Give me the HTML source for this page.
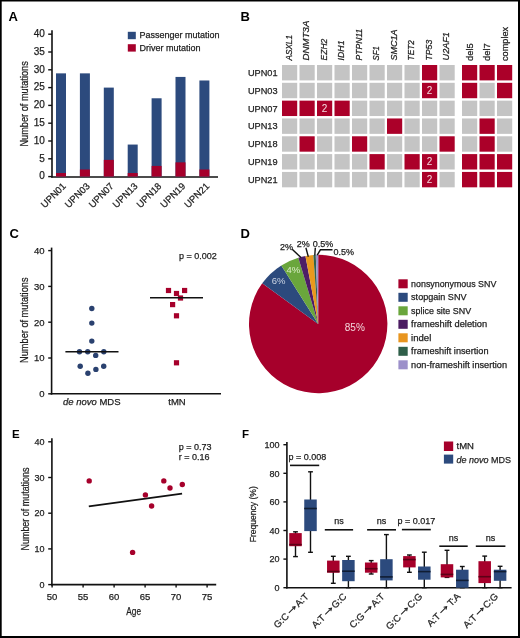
<!DOCTYPE html>
<html><head><meta charset="utf-8"><style>
html,body{margin:0;padding:0;background:#fff;width:520px;height:638px;overflow:hidden}
svg{display:block;will-change:transform}
text{font-family:"Liberation Sans", sans-serif}
</style></head><body>
<svg width="520" height="638" viewBox="0 0 520 638">
<rect width="520" height="638" fill="#fff"/>
<text x="8.40" y="20.70" font-size="13" text-anchor="start" fill="#000" font-weight="bold" font-style="normal" >A</text>
<line x1="52.00" y1="30.20" x2="52.00" y2="177.60" stroke="#111" stroke-width="1.6" stroke-linecap="butt"/>
<line x1="51.20" y1="177.00" x2="218.00" y2="177.00" stroke="#111" stroke-width="1.6" stroke-linecap="butt"/>
<line x1="48.20" y1="176.60" x2="52.00" y2="176.60" stroke="#111" stroke-width="1.4" stroke-linecap="butt"/>
<text x="44.80" y="179.30" font-size="10" text-anchor="end" fill="#1e1e1e" font-weight="normal" font-style="normal" stroke="#1e1e1e" stroke-width="0.25" >0</text>
<line x1="48.20" y1="158.80" x2="52.00" y2="158.80" stroke="#111" stroke-width="1.4" stroke-linecap="butt"/>
<text x="44.80" y="161.50" font-size="10" text-anchor="end" fill="#1e1e1e" font-weight="normal" font-style="normal" stroke="#1e1e1e" stroke-width="0.25" >5</text>
<line x1="48.20" y1="141.00" x2="52.00" y2="141.00" stroke="#111" stroke-width="1.4" stroke-linecap="butt"/>
<text x="44.80" y="143.70" font-size="10" text-anchor="end" fill="#1e1e1e" font-weight="normal" font-style="normal" stroke="#1e1e1e" stroke-width="0.25" >10</text>
<line x1="48.20" y1="123.20" x2="52.00" y2="123.20" stroke="#111" stroke-width="1.4" stroke-linecap="butt"/>
<text x="44.80" y="125.90" font-size="10" text-anchor="end" fill="#1e1e1e" font-weight="normal" font-style="normal" stroke="#1e1e1e" stroke-width="0.25" >15</text>
<line x1="48.20" y1="105.40" x2="52.00" y2="105.40" stroke="#111" stroke-width="1.4" stroke-linecap="butt"/>
<text x="44.80" y="108.10" font-size="10" text-anchor="end" fill="#1e1e1e" font-weight="normal" font-style="normal" stroke="#1e1e1e" stroke-width="0.25" >20</text>
<line x1="48.20" y1="87.60" x2="52.00" y2="87.60" stroke="#111" stroke-width="1.4" stroke-linecap="butt"/>
<text x="44.80" y="90.30" font-size="10" text-anchor="end" fill="#1e1e1e" font-weight="normal" font-style="normal" stroke="#1e1e1e" stroke-width="0.25" >25</text>
<line x1="48.20" y1="69.80" x2="52.00" y2="69.80" stroke="#111" stroke-width="1.4" stroke-linecap="butt"/>
<text x="44.80" y="72.50" font-size="10" text-anchor="end" fill="#1e1e1e" font-weight="normal" font-style="normal" stroke="#1e1e1e" stroke-width="0.25" >30</text>
<line x1="48.20" y1="52.00" x2="52.00" y2="52.00" stroke="#111" stroke-width="1.4" stroke-linecap="butt"/>
<text x="44.80" y="54.70" font-size="10" text-anchor="end" fill="#1e1e1e" font-weight="normal" font-style="normal" stroke="#1e1e1e" stroke-width="0.25" >35</text>
<line x1="48.20" y1="34.20" x2="52.00" y2="34.20" stroke="#111" stroke-width="1.4" stroke-linecap="butt"/>
<text x="44.80" y="36.90" font-size="10" text-anchor="end" fill="#1e1e1e" font-weight="normal" font-style="normal" stroke="#1e1e1e" stroke-width="0.25" >40</text>
<text x="0.00" y="0.00" font-size="11.5" text-anchor="middle" fill="#1e1e1e" font-weight="normal" font-style="normal" stroke="#1e1e1e" stroke-width="0.25" transform="translate(28.4,103.9) rotate(-90)" textLength="85.4" lengthAdjust="spacingAndGlyphs">Number of mutations</text>
<rect x="56.00" y="73.36" width="10.00" height="103.24" fill="#2c4a7d"/>
<rect x="56.00" y="173.04" width="10.00" height="3.56" fill="#a6002b"/>
<text x="0.00" y="0.00" font-size="9.5" text-anchor="end" fill="#1e1e1e" font-weight="normal" font-style="normal" stroke="#1e1e1e" stroke-width="0.25" transform="translate(66.50,186.8) rotate(-45)">UPN01</text>
<rect x="79.90" y="73.36" width="10.00" height="103.24" fill="#2c4a7d"/>
<rect x="79.90" y="169.48" width="10.00" height="7.12" fill="#a6002b"/>
<text x="0.00" y="0.00" font-size="9.5" text-anchor="end" fill="#1e1e1e" font-weight="normal" font-style="normal" stroke="#1e1e1e" stroke-width="0.25" transform="translate(90.40,186.8) rotate(-45)">UPN03</text>
<rect x="103.80" y="87.60" width="10.00" height="89.00" fill="#2c4a7d"/>
<rect x="103.80" y="159.87" width="10.00" height="16.73" fill="#a6002b"/>
<text x="0.00" y="0.00" font-size="9.5" text-anchor="end" fill="#1e1e1e" font-weight="normal" font-style="normal" stroke="#1e1e1e" stroke-width="0.25" transform="translate(114.30,186.8) rotate(-45)">UPN07</text>
<rect x="127.70" y="144.56" width="10.00" height="32.04" fill="#2c4a7d"/>
<rect x="127.70" y="173.04" width="10.00" height="3.56" fill="#a6002b"/>
<text x="0.00" y="0.00" font-size="9.5" text-anchor="end" fill="#1e1e1e" font-weight="normal" font-style="normal" stroke="#1e1e1e" stroke-width="0.25" transform="translate(138.20,186.8) rotate(-45)">UPN13</text>
<rect x="151.60" y="98.28" width="10.00" height="78.32" fill="#2c4a7d"/>
<rect x="151.60" y="165.92" width="10.00" height="10.68" fill="#a6002b"/>
<text x="0.00" y="0.00" font-size="9.5" text-anchor="end" fill="#1e1e1e" font-weight="normal" font-style="normal" stroke="#1e1e1e" stroke-width="0.25" transform="translate(162.10,186.8) rotate(-45)">UPN18</text>
<rect x="175.50" y="76.92" width="10.00" height="99.68" fill="#2c4a7d"/>
<rect x="175.50" y="162.36" width="10.00" height="14.24" fill="#a6002b"/>
<text x="0.00" y="0.00" font-size="9.5" text-anchor="end" fill="#1e1e1e" font-weight="normal" font-style="normal" stroke="#1e1e1e" stroke-width="0.25" transform="translate(186.00,186.8) rotate(-45)">UPN19</text>
<rect x="199.40" y="80.48" width="10.00" height="96.12" fill="#2c4a7d"/>
<rect x="199.40" y="169.48" width="10.00" height="7.12" fill="#a6002b"/>
<text x="0.00" y="0.00" font-size="9.5" text-anchor="end" fill="#1e1e1e" font-weight="normal" font-style="normal" stroke="#1e1e1e" stroke-width="0.25" transform="translate(209.90,186.8) rotate(-45)">UPN21</text>
<rect x="127.80" y="31.80" width="8.00" height="7.40" fill="#2c4a7d"/>
<rect x="127.80" y="44.20" width="8.00" height="7.40" fill="#a6002b"/>
<text x="139.40" y="38.00" font-size="9" text-anchor="start" fill="#1e1e1e" font-weight="normal" font-style="normal" stroke="#1e1e1e" stroke-width="0.25" >Passenger mutation</text>
<text x="139.40" y="50.60" font-size="9" text-anchor="start" fill="#1e1e1e" font-weight="normal" font-style="normal" stroke="#1e1e1e" stroke-width="0.25" >Driver mutation</text>
<text x="240.50" y="20.70" font-size="13" text-anchor="start" fill="#000" font-weight="bold" font-style="normal" >B</text>
<text x="277.60" y="76.00" font-size="9.2" text-anchor="end" fill="#1e1e1e" font-weight="normal" font-style="normal" stroke="#1e1e1e" stroke-width="0.25" >UPN01</text>
<rect x="282.00" y="65.00" width="15.20" height="15.40" fill="#c4c4c4"/>
<rect x="299.50" y="65.00" width="15.20" height="15.40" fill="#c4c4c4"/>
<rect x="317.00" y="65.00" width="15.20" height="15.40" fill="#c4c4c4"/>
<rect x="334.50" y="65.00" width="15.20" height="15.40" fill="#c4c4c4"/>
<rect x="352.00" y="65.00" width="15.20" height="15.40" fill="#c4c4c4"/>
<rect x="369.50" y="65.00" width="15.20" height="15.40" fill="#c4c4c4"/>
<rect x="387.00" y="65.00" width="15.20" height="15.40" fill="#c4c4c4"/>
<rect x="404.50" y="65.00" width="15.20" height="15.40" fill="#c4c4c4"/>
<rect x="422.00" y="65.00" width="15.20" height="15.40" fill="#ab0029"/>
<rect x="439.50" y="65.00" width="15.20" height="15.40" fill="#c4c4c4"/>
<rect x="462.00" y="65.00" width="15.20" height="15.40" fill="#ab0029"/>
<rect x="479.50" y="65.00" width="15.20" height="15.40" fill="#ab0029"/>
<rect x="497.00" y="65.00" width="15.20" height="15.40" fill="#ab0029"/>
<text x="277.60" y="93.82" font-size="9.2" text-anchor="end" fill="#1e1e1e" font-weight="normal" font-style="normal" stroke="#1e1e1e" stroke-width="0.25" >UPN03</text>
<rect x="282.00" y="82.82" width="15.20" height="15.40" fill="#c4c4c4"/>
<rect x="299.50" y="82.82" width="15.20" height="15.40" fill="#c4c4c4"/>
<rect x="317.00" y="82.82" width="15.20" height="15.40" fill="#c4c4c4"/>
<rect x="334.50" y="82.82" width="15.20" height="15.40" fill="#c4c4c4"/>
<rect x="352.00" y="82.82" width="15.20" height="15.40" fill="#c4c4c4"/>
<rect x="369.50" y="82.82" width="15.20" height="15.40" fill="#c4c4c4"/>
<rect x="387.00" y="82.82" width="15.20" height="15.40" fill="#c4c4c4"/>
<rect x="404.50" y="82.82" width="15.20" height="15.40" fill="#c4c4c4"/>
<rect x="422.00" y="82.82" width="15.20" height="15.40" fill="#ab0029"/>
<text x="429.60" y="94.02" font-size="10" text-anchor="middle" fill="#f4dce0" font-weight="normal" font-style="normal" >2</text>
<rect x="439.50" y="82.82" width="15.20" height="15.40" fill="#c4c4c4"/>
<rect x="462.00" y="82.82" width="15.20" height="15.40" fill="#ab0029"/>
<rect x="479.50" y="82.82" width="15.20" height="15.40" fill="#c4c4c4"/>
<rect x="497.00" y="82.82" width="15.20" height="15.40" fill="#ab0029"/>
<text x="277.60" y="111.64" font-size="9.2" text-anchor="end" fill="#1e1e1e" font-weight="normal" font-style="normal" stroke="#1e1e1e" stroke-width="0.25" >UPN07</text>
<rect x="282.00" y="100.64" width="15.20" height="15.40" fill="#ab0029"/>
<rect x="299.50" y="100.64" width="15.20" height="15.40" fill="#ab0029"/>
<rect x="317.00" y="100.64" width="15.20" height="15.40" fill="#ab0029"/>
<text x="324.60" y="111.84" font-size="10" text-anchor="middle" fill="#f4dce0" font-weight="normal" font-style="normal" >2</text>
<rect x="334.50" y="100.64" width="15.20" height="15.40" fill="#ab0029"/>
<rect x="352.00" y="100.64" width="15.20" height="15.40" fill="#c4c4c4"/>
<rect x="369.50" y="100.64" width="15.20" height="15.40" fill="#c4c4c4"/>
<rect x="387.00" y="100.64" width="15.20" height="15.40" fill="#c4c4c4"/>
<rect x="404.50" y="100.64" width="15.20" height="15.40" fill="#c4c4c4"/>
<rect x="422.00" y="100.64" width="15.20" height="15.40" fill="#c4c4c4"/>
<rect x="439.50" y="100.64" width="15.20" height="15.40" fill="#c4c4c4"/>
<rect x="462.00" y="100.64" width="15.20" height="15.40" fill="#c4c4c4"/>
<rect x="479.50" y="100.64" width="15.20" height="15.40" fill="#c4c4c4"/>
<rect x="497.00" y="100.64" width="15.20" height="15.40" fill="#c4c4c4"/>
<text x="277.60" y="129.46" font-size="9.2" text-anchor="end" fill="#1e1e1e" font-weight="normal" font-style="normal" stroke="#1e1e1e" stroke-width="0.25" >UPN13</text>
<rect x="282.00" y="118.46" width="15.20" height="15.40" fill="#c4c4c4"/>
<rect x="299.50" y="118.46" width="15.20" height="15.40" fill="#c4c4c4"/>
<rect x="317.00" y="118.46" width="15.20" height="15.40" fill="#c4c4c4"/>
<rect x="334.50" y="118.46" width="15.20" height="15.40" fill="#c4c4c4"/>
<rect x="352.00" y="118.46" width="15.20" height="15.40" fill="#c4c4c4"/>
<rect x="369.50" y="118.46" width="15.20" height="15.40" fill="#c4c4c4"/>
<rect x="387.00" y="118.46" width="15.20" height="15.40" fill="#ab0029"/>
<rect x="404.50" y="118.46" width="15.20" height="15.40" fill="#c4c4c4"/>
<rect x="422.00" y="118.46" width="15.20" height="15.40" fill="#c4c4c4"/>
<rect x="439.50" y="118.46" width="15.20" height="15.40" fill="#c4c4c4"/>
<rect x="462.00" y="118.46" width="15.20" height="15.40" fill="#c4c4c4"/>
<rect x="479.50" y="118.46" width="15.20" height="15.40" fill="#ab0029"/>
<rect x="497.00" y="118.46" width="15.20" height="15.40" fill="#c4c4c4"/>
<text x="277.60" y="147.28" font-size="9.2" text-anchor="end" fill="#1e1e1e" font-weight="normal" font-style="normal" stroke="#1e1e1e" stroke-width="0.25" >UPN18</text>
<rect x="282.00" y="136.28" width="15.20" height="15.40" fill="#c4c4c4"/>
<rect x="299.50" y="136.28" width="15.20" height="15.40" fill="#ab0029"/>
<rect x="317.00" y="136.28" width="15.20" height="15.40" fill="#c4c4c4"/>
<rect x="334.50" y="136.28" width="15.20" height="15.40" fill="#c4c4c4"/>
<rect x="352.00" y="136.28" width="15.20" height="15.40" fill="#ab0029"/>
<rect x="369.50" y="136.28" width="15.20" height="15.40" fill="#c4c4c4"/>
<rect x="387.00" y="136.28" width="15.20" height="15.40" fill="#c4c4c4"/>
<rect x="404.50" y="136.28" width="15.20" height="15.40" fill="#c4c4c4"/>
<rect x="422.00" y="136.28" width="15.20" height="15.40" fill="#c4c4c4"/>
<rect x="439.50" y="136.28" width="15.20" height="15.40" fill="#ab0029"/>
<rect x="462.00" y="136.28" width="15.20" height="15.40" fill="#c4c4c4"/>
<rect x="479.50" y="136.28" width="15.20" height="15.40" fill="#ab0029"/>
<rect x="497.00" y="136.28" width="15.20" height="15.40" fill="#c4c4c4"/>
<text x="277.60" y="165.10" font-size="9.2" text-anchor="end" fill="#1e1e1e" font-weight="normal" font-style="normal" stroke="#1e1e1e" stroke-width="0.25" >UPN19</text>
<rect x="282.00" y="154.10" width="15.20" height="15.40" fill="#c4c4c4"/>
<rect x="299.50" y="154.10" width="15.20" height="15.40" fill="#c4c4c4"/>
<rect x="317.00" y="154.10" width="15.20" height="15.40" fill="#c4c4c4"/>
<rect x="334.50" y="154.10" width="15.20" height="15.40" fill="#c4c4c4"/>
<rect x="352.00" y="154.10" width="15.20" height="15.40" fill="#c4c4c4"/>
<rect x="369.50" y="154.10" width="15.20" height="15.40" fill="#ab0029"/>
<rect x="387.00" y="154.10" width="15.20" height="15.40" fill="#c4c4c4"/>
<rect x="404.50" y="154.10" width="15.20" height="15.40" fill="#ab0029"/>
<rect x="422.00" y="154.10" width="15.20" height="15.40" fill="#ab0029"/>
<text x="429.60" y="165.30" font-size="10" text-anchor="middle" fill="#f4dce0" font-weight="normal" font-style="normal" >2</text>
<rect x="439.50" y="154.10" width="15.20" height="15.40" fill="#c4c4c4"/>
<rect x="462.00" y="154.10" width="15.20" height="15.40" fill="#ab0029"/>
<rect x="479.50" y="154.10" width="15.20" height="15.40" fill="#ab0029"/>
<rect x="497.00" y="154.10" width="15.20" height="15.40" fill="#ab0029"/>
<text x="277.60" y="182.92" font-size="9.2" text-anchor="end" fill="#1e1e1e" font-weight="normal" font-style="normal" stroke="#1e1e1e" stroke-width="0.25" >UPN21</text>
<rect x="282.00" y="171.92" width="15.20" height="15.40" fill="#c4c4c4"/>
<rect x="299.50" y="171.92" width="15.20" height="15.40" fill="#c4c4c4"/>
<rect x="317.00" y="171.92" width="15.20" height="15.40" fill="#c4c4c4"/>
<rect x="334.50" y="171.92" width="15.20" height="15.40" fill="#c4c4c4"/>
<rect x="352.00" y="171.92" width="15.20" height="15.40" fill="#c4c4c4"/>
<rect x="369.50" y="171.92" width="15.20" height="15.40" fill="#c4c4c4"/>
<rect x="387.00" y="171.92" width="15.20" height="15.40" fill="#c4c4c4"/>
<rect x="404.50" y="171.92" width="15.20" height="15.40" fill="#c4c4c4"/>
<rect x="422.00" y="171.92" width="15.20" height="15.40" fill="#ab0029"/>
<text x="429.60" y="183.12" font-size="10" text-anchor="middle" fill="#f4dce0" font-weight="normal" font-style="normal" >2</text>
<rect x="439.50" y="171.92" width="15.20" height="15.40" fill="#c4c4c4"/>
<rect x="462.00" y="171.92" width="15.20" height="15.40" fill="#ab0029"/>
<rect x="479.50" y="171.92" width="15.20" height="15.40" fill="#ab0029"/>
<rect x="497.00" y="171.92" width="15.20" height="15.40" fill="#ab0029"/>
<text x="0.00" y="0.00" font-size="9.5" text-anchor="start" fill="#1e1e1e" font-weight="normal" font-style="italic" stroke="#1e1e1e" stroke-width="0.25" transform="translate(291.60,60.4) rotate(-90)" textLength="25.3" lengthAdjust="spacingAndGlyphs">ASXL1</text>
<text x="0.00" y="0.00" font-size="9.5" text-anchor="start" fill="#1e1e1e" font-weight="normal" font-style="italic" stroke="#1e1e1e" stroke-width="0.25" transform="translate(309.10,60.4) rotate(-90)" textLength="39.8" lengthAdjust="spacingAndGlyphs">DNMT3A</text>
<text x="0.00" y="0.00" font-size="9.5" text-anchor="start" fill="#1e1e1e" font-weight="normal" font-style="italic" stroke="#1e1e1e" stroke-width="0.25" transform="translate(326.60,60.4) rotate(-90)" textLength="21.6" lengthAdjust="spacingAndGlyphs">EZH2</text>
<text x="0.00" y="0.00" font-size="9.5" text-anchor="start" fill="#1e1e1e" font-weight="normal" font-style="italic" stroke="#1e1e1e" stroke-width="0.25" transform="translate(344.10,60.4) rotate(-90)" textLength="20.0" lengthAdjust="spacingAndGlyphs">IDH1</text>
<text x="0.00" y="0.00" font-size="9.5" text-anchor="start" fill="#1e1e1e" font-weight="normal" font-style="italic" stroke="#1e1e1e" stroke-width="0.25" transform="translate(361.60,60.4) rotate(-90)" textLength="31.7" lengthAdjust="spacingAndGlyphs">PTPN11</text>
<text x="0.00" y="0.00" font-size="9.5" text-anchor="start" fill="#1e1e1e" font-weight="normal" font-style="italic" stroke="#1e1e1e" stroke-width="0.25" transform="translate(379.10,60.4) rotate(-90)" textLength="14.2" lengthAdjust="spacingAndGlyphs">SF1</text>
<text x="0.00" y="0.00" font-size="9.5" text-anchor="start" fill="#1e1e1e" font-weight="normal" font-style="italic" stroke="#1e1e1e" stroke-width="0.25" transform="translate(396.60,60.4) rotate(-90)" textLength="31.0" lengthAdjust="spacingAndGlyphs">SMC1A</text>
<text x="0.00" y="0.00" font-size="9.5" text-anchor="start" fill="#1e1e1e" font-weight="normal" font-style="italic" stroke="#1e1e1e" stroke-width="0.25" transform="translate(414.10,60.4) rotate(-90)" textLength="20.3" lengthAdjust="spacingAndGlyphs">TET2</text>
<text x="0.00" y="0.00" font-size="9.5" text-anchor="start" fill="#1e1e1e" font-weight="normal" font-style="italic" stroke="#1e1e1e" stroke-width="0.25" transform="translate(431.60,60.4) rotate(-90)" textLength="20.6" lengthAdjust="spacingAndGlyphs">TP53</text>
<text x="0.00" y="0.00" font-size="9.5" text-anchor="start" fill="#1e1e1e" font-weight="normal" font-style="italic" stroke="#1e1e1e" stroke-width="0.25" transform="translate(449.10,60.4) rotate(-90)" textLength="28.3" lengthAdjust="spacingAndGlyphs">U2AF1</text>
<text x="0.00" y="0.00" font-size="9.5" text-anchor="start" fill="#1e1e1e" font-weight="normal" font-style="normal" stroke="#1e1e1e" stroke-width="0.25" transform="translate(472.60,61.0) rotate(-90)" textLength="17.7" lengthAdjust="spacingAndGlyphs">del5</text>
<text x="0.00" y="0.00" font-size="9.5" text-anchor="start" fill="#1e1e1e" font-weight="normal" font-style="normal" stroke="#1e1e1e" stroke-width="0.25" transform="translate(490.10,61.0) rotate(-90)" textLength="17.7" lengthAdjust="spacingAndGlyphs">del7</text>
<text x="0.00" y="0.00" font-size="9.5" text-anchor="start" fill="#1e1e1e" font-weight="normal" font-style="normal" stroke="#1e1e1e" stroke-width="0.25" transform="translate(507.60,61.0) rotate(-90)" textLength="34.1" lengthAdjust="spacingAndGlyphs">complex</text>
<text x="9.60" y="238.40" font-size="13" text-anchor="start" fill="#000" font-weight="bold" font-style="normal" >C</text>
<line x1="51.60" y1="247.60" x2="51.60" y2="394.60" stroke="#111" stroke-width="1.6" stroke-linecap="butt"/>
<line x1="50.80" y1="393.80" x2="221.00" y2="393.80" stroke="#111" stroke-width="1.6" stroke-linecap="butt"/>
<line x1="48.20" y1="393.80" x2="51.60" y2="393.80" stroke="#111" stroke-width="1.4" stroke-linecap="butt"/>
<text x="44.50" y="397.10" font-size="9.5" text-anchor="end" fill="#1e1e1e" font-weight="normal" font-style="normal" stroke="#1e1e1e" stroke-width="0.25" >0</text>
<line x1="48.20" y1="358.00" x2="51.60" y2="358.00" stroke="#111" stroke-width="1.4" stroke-linecap="butt"/>
<text x="44.50" y="361.30" font-size="9.5" text-anchor="end" fill="#1e1e1e" font-weight="normal" font-style="normal" stroke="#1e1e1e" stroke-width="0.25" >10</text>
<line x1="48.20" y1="322.20" x2="51.60" y2="322.20" stroke="#111" stroke-width="1.4" stroke-linecap="butt"/>
<text x="44.50" y="325.50" font-size="9.5" text-anchor="end" fill="#1e1e1e" font-weight="normal" font-style="normal" stroke="#1e1e1e" stroke-width="0.25" >20</text>
<line x1="48.20" y1="286.40" x2="51.60" y2="286.40" stroke="#111" stroke-width="1.4" stroke-linecap="butt"/>
<text x="44.50" y="289.70" font-size="9.5" text-anchor="end" fill="#1e1e1e" font-weight="normal" font-style="normal" stroke="#1e1e1e" stroke-width="0.25" >30</text>
<line x1="48.20" y1="250.60" x2="51.60" y2="250.60" stroke="#111" stroke-width="1.4" stroke-linecap="butt"/>
<text x="44.50" y="253.90" font-size="9.5" text-anchor="end" fill="#1e1e1e" font-weight="normal" font-style="normal" stroke="#1e1e1e" stroke-width="0.25" >40</text>
<text x="0.00" y="0.00" font-size="11.5" text-anchor="middle" fill="#1e1e1e" font-weight="normal" font-style="normal" stroke="#1e1e1e" stroke-width="0.25" transform="translate(28.4,320.2) rotate(-90)" textLength="85.4" lengthAdjust="spacingAndGlyphs">Number of mutations</text>
<circle cx="91.8" cy="308.5" r="2.7" fill="#2a416f"/>
<circle cx="91.8" cy="323.1" r="2.7" fill="#2a416f"/>
<circle cx="91.8" cy="341.1" r="2.7" fill="#2a416f"/>
<circle cx="79.5" cy="351.8" r="2.7" fill="#2a416f"/>
<circle cx="87.7" cy="351.8" r="2.7" fill="#2a416f"/>
<circle cx="103.8" cy="351.8" r="2.7" fill="#2a416f"/>
<circle cx="95.7" cy="355.4" r="2.7" fill="#2a416f"/>
<circle cx="80.2" cy="366.2" r="2.7" fill="#2a416f"/>
<circle cx="103.7" cy="366.2" r="2.7" fill="#2a416f"/>
<circle cx="95.9" cy="369.4" r="2.7" fill="#2a416f"/>
<circle cx="87.9" cy="373.3" r="2.7" fill="#2a416f"/>
<line x1="65.40" y1="351.80" x2="118.50" y2="351.80" stroke="#111" stroke-width="1.6" stroke-linecap="butt"/>
<rect x="165.90" y="287.90" width="5.20" height="5.20" fill="#a6002b"/>
<rect x="182.00" y="287.90" width="5.20" height="5.20" fill="#a6002b"/>
<rect x="173.90" y="290.90" width="5.20" height="5.20" fill="#a6002b"/>
<rect x="177.90" y="295.40" width="5.20" height="5.20" fill="#a6002b"/>
<rect x="170.00" y="302.00" width="5.20" height="5.20" fill="#a6002b"/>
<rect x="173.90" y="313.20" width="5.20" height="5.20" fill="#a6002b"/>
<rect x="173.90" y="360.20" width="5.20" height="5.20" fill="#a6002b"/>
<line x1="150.00" y1="297.80" x2="203.00" y2="297.80" stroke="#111" stroke-width="1.6" stroke-linecap="butt"/>
<text x="91.75" y="405.40" font-size="9.5" text-anchor="middle" fill="#1e1e1e" font-weight="normal" font-style="normal" stroke="#1e1e1e" stroke-width="0.25" ><tspan font-style="italic">de novo</tspan> MDS</text>
<text x="177.00" y="405.40" font-size="9.5" text-anchor="middle" fill="#1e1e1e" font-weight="normal" font-style="normal" stroke="#1e1e1e" stroke-width="0.25" >tMN</text>
<text x="179.00" y="258.70" font-size="9" text-anchor="start" fill="#1e1e1e" font-weight="normal" font-style="normal" stroke="#1e1e1e" stroke-width="0.25" >p = 0.002</text>
<text x="240.50" y="238.40" font-size="13" text-anchor="start" fill="#000" font-weight="bold" font-style="normal" >D</text>
<path d="M318.2,324.0 L318.200,254.800 A69.2,69.2 0 1 1 262.216,283.325 Z" fill="#a6002b"/>
<path d="M318.2,324.0 L262.216,283.325 A69.2,69.2 0 0 1 281.325,265.443 Z" fill="#2c4a7d"/>
<path d="M318.2,324.0 L281.325,265.443 A69.2,69.2 0 0 1 298.315,257.719 Z" fill="#6aa63c"/>
<path d="M318.2,324.0 L298.315,257.719 A69.2,69.2 0 0 1 305.471,255.981 Z" fill="#4d1d66"/>
<path d="M318.2,324.0 L305.471,255.981 A69.2,69.2 0 0 1 313.373,254.969 Z" fill="#e9991e"/>
<path d="M318.2,324.0 L313.373,254.969 A69.2,69.2 0 0 1 315.785,254.842 Z" fill="#33634c"/>
<path d="M318.2,324.0 L315.785,254.842 A69.2,69.2 0 0 1 318.200,254.800 Z" fill="#9c93cc"/>
<text x="354.80" y="330.80" font-size="10" text-anchor="middle" fill="#f3d6dc" font-weight="normal" font-style="normal" >85%</text>
<text x="278.50" y="284.20" font-size="9.5" text-anchor="middle" fill="#cdd5e4" font-weight="normal" font-style="normal" >6%</text>
<text x="293.40" y="272.70" font-size="9.5" text-anchor="middle" fill="#dcedc8" font-weight="normal" font-style="normal" >4%</text>
<text x="286.50" y="249.70" font-size="9" text-anchor="middle" fill="#1e1e1e" font-weight="normal" font-style="normal" stroke="#1e1e1e" stroke-width="0.25" >2%</text>
<text x="303.30" y="246.90" font-size="9" text-anchor="middle" fill="#1e1e1e" font-weight="normal" font-style="normal" stroke="#1e1e1e" stroke-width="0.25" >2%</text>
<text x="323.10" y="246.90" font-size="9" text-anchor="middle" fill="#1e1e1e" font-weight="normal" font-style="normal" stroke="#1e1e1e" stroke-width="0.25" >0.5%</text>
<text x="343.70" y="254.60" font-size="9" text-anchor="middle" fill="#1e1e1e" font-weight="normal" font-style="normal" stroke="#1e1e1e" stroke-width="0.25" >0.5%</text>
<polyline points="292.2,249.3 301,257.6" stroke="#111" stroke-width="1.4" fill="none"/>
<polyline points="305.9,247.7 308.3,256.8" stroke="#111" stroke-width="1.4" fill="none"/>
<polyline points="315.3,247.7 314.8,255.2" stroke="#111" stroke-width="1.4" fill="none"/>
<polyline points="317.2,255.2 320.4,249.8 332.5,249.8" stroke="#111" stroke-width="1.4" fill="none"/>
<rect x="398.40" y="279.30" width="9.30" height="9.00" fill="#a6002b"/>
<text x="411.10" y="286.70" font-size="9" text-anchor="start" fill="#1e1e1e" font-weight="normal" font-style="normal" stroke="#1e1e1e" stroke-width="0.25" textLength="85.2" lengthAdjust="spacingAndGlyphs">nonsynonymous SNV</text>
<rect x="398.40" y="292.80" width="9.30" height="9.00" fill="#2c4a7d"/>
<text x="411.10" y="300.20" font-size="9" text-anchor="start" fill="#1e1e1e" font-weight="normal" font-style="normal" stroke="#1e1e1e" stroke-width="0.25" textLength="55.4" lengthAdjust="spacingAndGlyphs">stopgain SNV</text>
<rect x="398.40" y="306.30" width="9.30" height="9.00" fill="#6aa63c"/>
<text x="411.10" y="313.70" font-size="9" text-anchor="start" fill="#1e1e1e" font-weight="normal" font-style="normal" stroke="#1e1e1e" stroke-width="0.25" textLength="60.0" lengthAdjust="spacingAndGlyphs">splice site SNV</text>
<rect x="398.40" y="319.80" width="9.30" height="9.00" fill="#4b1c62"/>
<text x="411.10" y="327.20" font-size="9" text-anchor="start" fill="#1e1e1e" font-weight="normal" font-style="normal" stroke="#1e1e1e" stroke-width="0.25" textLength="76.0" lengthAdjust="spacingAndGlyphs">frameshift deletion</text>
<rect x="398.40" y="333.30" width="9.30" height="9.00" fill="#e8951f"/>
<text x="411.10" y="340.70" font-size="9" text-anchor="start" fill="#1e1e1e" font-weight="normal" font-style="normal" stroke="#1e1e1e" stroke-width="0.25" textLength="20.2" lengthAdjust="spacingAndGlyphs">indel</text>
<rect x="398.40" y="346.80" width="9.30" height="9.00" fill="#2f5f49"/>
<text x="411.10" y="354.20" font-size="9" text-anchor="start" fill="#1e1e1e" font-weight="normal" font-style="normal" stroke="#1e1e1e" stroke-width="0.25" textLength="77.4" lengthAdjust="spacingAndGlyphs">frameshift insertion</text>
<rect x="398.40" y="360.30" width="9.30" height="9.00" fill="#9c90ca"/>
<text x="411.10" y="367.70" font-size="9" text-anchor="start" fill="#1e1e1e" font-weight="normal" font-style="normal" stroke="#1e1e1e" stroke-width="0.25" textLength="96.0" lengthAdjust="spacingAndGlyphs">non-frameshift insertion</text>
<text x="12.00" y="437.70" font-size="11.5" text-anchor="start" fill="#000" font-weight="bold" font-style="normal" >E</text>
<line x1="51.90" y1="438.20" x2="51.90" y2="585.40" stroke="#111" stroke-width="1.6" stroke-linecap="butt"/>
<line x1="51.10" y1="584.60" x2="216.20" y2="584.60" stroke="#111" stroke-width="1.6" stroke-linecap="butt"/>
<line x1="48.20" y1="584.60" x2="51.90" y2="584.60" stroke="#111" stroke-width="1.4" stroke-linecap="butt"/>
<text x="44.60" y="587.80" font-size="9" text-anchor="end" fill="#1e1e1e" font-weight="normal" font-style="normal" stroke="#1e1e1e" stroke-width="0.25" >0</text>
<line x1="48.20" y1="548.90" x2="51.90" y2="548.90" stroke="#111" stroke-width="1.4" stroke-linecap="butt"/>
<text x="44.60" y="552.10" font-size="9" text-anchor="end" fill="#1e1e1e" font-weight="normal" font-style="normal" stroke="#1e1e1e" stroke-width="0.25" >10</text>
<line x1="48.20" y1="513.20" x2="51.90" y2="513.20" stroke="#111" stroke-width="1.4" stroke-linecap="butt"/>
<text x="44.60" y="516.40" font-size="9" text-anchor="end" fill="#1e1e1e" font-weight="normal" font-style="normal" stroke="#1e1e1e" stroke-width="0.25" >20</text>
<line x1="48.20" y1="477.50" x2="51.90" y2="477.50" stroke="#111" stroke-width="1.4" stroke-linecap="butt"/>
<text x="44.60" y="480.70" font-size="9" text-anchor="end" fill="#1e1e1e" font-weight="normal" font-style="normal" stroke="#1e1e1e" stroke-width="0.25" >30</text>
<line x1="48.20" y1="441.80" x2="51.90" y2="441.80" stroke="#111" stroke-width="1.4" stroke-linecap="butt"/>
<text x="44.60" y="445.00" font-size="9" text-anchor="end" fill="#1e1e1e" font-weight="normal" font-style="normal" stroke="#1e1e1e" stroke-width="0.25" >40</text>
<line x1="52.10" y1="584.60" x2="52.10" y2="587.60" stroke="#111" stroke-width="1.4" stroke-linecap="butt"/>
<text x="52.10" y="599.80" font-size="9.5" text-anchor="middle" fill="#1e1e1e" font-weight="normal" font-style="normal" stroke="#1e1e1e" stroke-width="0.25" >50</text>
<line x1="83.10" y1="584.60" x2="83.10" y2="587.60" stroke="#111" stroke-width="1.4" stroke-linecap="butt"/>
<text x="83.10" y="599.80" font-size="9.5" text-anchor="middle" fill="#1e1e1e" font-weight="normal" font-style="normal" stroke="#1e1e1e" stroke-width="0.25" >55</text>
<line x1="114.10" y1="584.60" x2="114.10" y2="587.60" stroke="#111" stroke-width="1.4" stroke-linecap="butt"/>
<text x="114.10" y="599.80" font-size="9.5" text-anchor="middle" fill="#1e1e1e" font-weight="normal" font-style="normal" stroke="#1e1e1e" stroke-width="0.25" >60</text>
<line x1="145.10" y1="584.60" x2="145.10" y2="587.60" stroke="#111" stroke-width="1.4" stroke-linecap="butt"/>
<text x="145.10" y="599.80" font-size="9.5" text-anchor="middle" fill="#1e1e1e" font-weight="normal" font-style="normal" stroke="#1e1e1e" stroke-width="0.25" >65</text>
<line x1="176.10" y1="584.60" x2="176.10" y2="587.60" stroke="#111" stroke-width="1.4" stroke-linecap="butt"/>
<text x="176.10" y="599.80" font-size="9.5" text-anchor="middle" fill="#1e1e1e" font-weight="normal" font-style="normal" stroke="#1e1e1e" stroke-width="0.25" >70</text>
<line x1="207.10" y1="584.60" x2="207.10" y2="587.60" stroke="#111" stroke-width="1.4" stroke-linecap="butt"/>
<text x="207.10" y="599.80" font-size="9.5" text-anchor="middle" fill="#1e1e1e" font-weight="normal" font-style="normal" stroke="#1e1e1e" stroke-width="0.25" >75</text>
<text x="133.70" y="615.40" font-size="11" text-anchor="middle" fill="#1e1e1e" font-weight="normal" font-style="normal" stroke="#1e1e1e" stroke-width="0.25" textLength="14.8" lengthAdjust="spacingAndGlyphs">Age</text>
<text x="0.00" y="0.00" font-size="11.5" text-anchor="middle" fill="#1e1e1e" font-weight="normal" font-style="normal" stroke="#1e1e1e" stroke-width="0.25" transform="translate(28.6,509.0) rotate(-90)" textLength="83" lengthAdjust="spacingAndGlyphs">Number of mutations</text>
<line x1="88.80" y1="506.30" x2="182.10" y2="493.60" stroke="#111" stroke-width="1.8" stroke-linecap="butt"/>
<circle cx="89.2" cy="480.9" r="2.7" fill="#a6002b"/>
<circle cx="132.6" cy="552.4" r="2.7" fill="#a6002b"/>
<circle cx="145.4" cy="494.9" r="2.7" fill="#a6002b"/>
<circle cx="151.6" cy="506" r="2.7" fill="#a6002b"/>
<circle cx="163.8" cy="480.9" r="2.7" fill="#a6002b"/>
<circle cx="170" cy="488" r="2.7" fill="#a6002b"/>
<circle cx="182.3" cy="484.5" r="2.7" fill="#a6002b"/>
<text x="178.80" y="449.60" font-size="9" text-anchor="start" fill="#1e1e1e" font-weight="normal" font-style="normal" stroke="#1e1e1e" stroke-width="0.25" >p = 0.73</text>
<text x="178.80" y="459.50" font-size="9" text-anchor="start" fill="#1e1e1e" font-weight="normal" font-style="normal" stroke="#1e1e1e" stroke-width="0.25" >r = 0.16</text>
<text x="242.00" y="437.70" font-size="11.5" text-anchor="start" fill="#000" font-weight="bold" font-style="normal" >F</text>
<line x1="286.90" y1="442.00" x2="286.90" y2="588.50" stroke="#111" stroke-width="1.6" stroke-linecap="butt"/>
<line x1="286.10" y1="587.70" x2="511.60" y2="587.70" stroke="#111" stroke-width="1.6" stroke-linecap="butt"/>
<line x1="283.40" y1="587.70" x2="286.90" y2="587.70" stroke="#111" stroke-width="1.4" stroke-linecap="butt"/>
<text x="279.60" y="590.90" font-size="9" text-anchor="end" fill="#1e1e1e" font-weight="normal" font-style="normal" stroke="#1e1e1e" stroke-width="0.25" >0</text>
<line x1="283.40" y1="559.10" x2="286.90" y2="559.10" stroke="#111" stroke-width="1.4" stroke-linecap="butt"/>
<text x="279.60" y="562.30" font-size="9" text-anchor="end" fill="#1e1e1e" font-weight="normal" font-style="normal" stroke="#1e1e1e" stroke-width="0.25" >20</text>
<line x1="283.40" y1="530.50" x2="286.90" y2="530.50" stroke="#111" stroke-width="1.4" stroke-linecap="butt"/>
<text x="279.60" y="533.70" font-size="9" text-anchor="end" fill="#1e1e1e" font-weight="normal" font-style="normal" stroke="#1e1e1e" stroke-width="0.25" >40</text>
<line x1="283.40" y1="501.90" x2="286.90" y2="501.90" stroke="#111" stroke-width="1.4" stroke-linecap="butt"/>
<text x="279.60" y="505.10" font-size="9" text-anchor="end" fill="#1e1e1e" font-weight="normal" font-style="normal" stroke="#1e1e1e" stroke-width="0.25" >60</text>
<line x1="283.40" y1="473.30" x2="286.90" y2="473.30" stroke="#111" stroke-width="1.4" stroke-linecap="butt"/>
<text x="279.60" y="476.50" font-size="9" text-anchor="end" fill="#1e1e1e" font-weight="normal" font-style="normal" stroke="#1e1e1e" stroke-width="0.25" >80</text>
<line x1="283.40" y1="444.70" x2="286.90" y2="444.70" stroke="#111" stroke-width="1.4" stroke-linecap="butt"/>
<text x="279.60" y="447.90" font-size="9" text-anchor="end" fill="#1e1e1e" font-weight="normal" font-style="normal" stroke="#1e1e1e" stroke-width="0.25" >100</text>
<text x="0.00" y="0.00" font-size="9.8" text-anchor="middle" fill="#1e1e1e" font-weight="normal" font-style="normal" stroke="#1e1e1e" stroke-width="0.25" transform="translate(255.8,514.2) rotate(-90)" textLength="56" lengthAdjust="spacingAndGlyphs">Frequency (%)</text>
<line x1="295.50" y1="531.80" x2="295.50" y2="556.60" stroke="#111" stroke-width="1.4" stroke-linecap="butt"/>
<line x1="293.10" y1="531.80" x2="297.90" y2="531.80" stroke="#111" stroke-width="1.4" stroke-linecap="butt"/>
<line x1="293.10" y1="556.60" x2="297.90" y2="556.60" stroke="#111" stroke-width="1.4" stroke-linecap="butt"/>
<rect x="289.25" y="533.10" width="12.50" height="13.10" fill="#a6002b"/>
<line x1="289.25" y1="544.60" x2="301.75" y2="544.60" stroke="#5c0016" stroke-width="1.6" stroke-linecap="butt"/>
<line x1="310.50" y1="471.80" x2="310.50" y2="552.30" stroke="#111" stroke-width="1.4" stroke-linecap="butt"/>
<line x1="308.10" y1="471.80" x2="312.90" y2="471.80" stroke="#111" stroke-width="1.4" stroke-linecap="butt"/>
<line x1="308.10" y1="552.30" x2="312.90" y2="552.30" stroke="#111" stroke-width="1.4" stroke-linecap="butt"/>
<rect x="304.25" y="499.50" width="12.50" height="31.60" fill="#2c4a7d"/>
<line x1="304.25" y1="508.50" x2="316.75" y2="508.50" stroke="#101d33" stroke-width="1.6" stroke-linecap="butt"/>
<line x1="333.30" y1="556.30" x2="333.30" y2="583.30" stroke="#111" stroke-width="1.4" stroke-linecap="butt"/>
<line x1="330.90" y1="556.30" x2="335.70" y2="556.30" stroke="#111" stroke-width="1.4" stroke-linecap="butt"/>
<line x1="330.90" y1="583.30" x2="335.70" y2="583.30" stroke="#111" stroke-width="1.4" stroke-linecap="butt"/>
<rect x="327.05" y="560.60" width="12.50" height="12.10" fill="#a6002b"/>
<line x1="327.05" y1="571.50" x2="339.55" y2="571.50" stroke="#5c0016" stroke-width="1.6" stroke-linecap="butt"/>
<line x1="348.40" y1="556.30" x2="348.40" y2="587.70" stroke="#111" stroke-width="1.4" stroke-linecap="butt"/>
<line x1="346.00" y1="556.30" x2="350.80" y2="556.30" stroke="#111" stroke-width="1.4" stroke-linecap="butt"/>
<line x1="346.00" y1="587.70" x2="350.80" y2="587.70" stroke="#111" stroke-width="1.4" stroke-linecap="butt"/>
<rect x="342.15" y="560.00" width="12.50" height="21.20" fill="#2c4a7d"/>
<line x1="342.15" y1="571.20" x2="354.65" y2="571.20" stroke="#101d33" stroke-width="1.6" stroke-linecap="butt"/>
<line x1="371.20" y1="560.60" x2="371.20" y2="574.00" stroke="#111" stroke-width="1.4" stroke-linecap="butt"/>
<line x1="368.80" y1="560.60" x2="373.60" y2="560.60" stroke="#111" stroke-width="1.4" stroke-linecap="butt"/>
<line x1="368.80" y1="574.00" x2="373.60" y2="574.00" stroke="#111" stroke-width="1.4" stroke-linecap="butt"/>
<rect x="364.95" y="562.50" width="12.50" height="10.20" fill="#a6002b"/>
<line x1="364.95" y1="568.70" x2="377.45" y2="568.70" stroke="#5c0016" stroke-width="1.6" stroke-linecap="butt"/>
<line x1="386.40" y1="534.60" x2="386.40" y2="587.70" stroke="#111" stroke-width="1.4" stroke-linecap="butt"/>
<line x1="384.00" y1="534.60" x2="388.80" y2="534.60" stroke="#111" stroke-width="1.4" stroke-linecap="butt"/>
<line x1="384.00" y1="587.70" x2="388.80" y2="587.70" stroke="#111" stroke-width="1.4" stroke-linecap="butt"/>
<rect x="380.15" y="559.20" width="12.50" height="21.20" fill="#2c4a7d"/>
<line x1="380.15" y1="576.90" x2="392.65" y2="576.90" stroke="#101d33" stroke-width="1.6" stroke-linecap="butt"/>
<line x1="409.40" y1="555.00" x2="409.40" y2="572.30" stroke="#111" stroke-width="1.4" stroke-linecap="butt"/>
<line x1="407.00" y1="555.00" x2="411.80" y2="555.00" stroke="#111" stroke-width="1.4" stroke-linecap="butt"/>
<line x1="407.00" y1="572.30" x2="411.80" y2="572.30" stroke="#111" stroke-width="1.4" stroke-linecap="butt"/>
<rect x="403.15" y="556.10" width="12.50" height="11.30" fill="#a6002b"/>
<line x1="403.15" y1="559.60" x2="415.65" y2="559.60" stroke="#5c0016" stroke-width="1.6" stroke-linecap="butt"/>
<line x1="424.30" y1="552.20" x2="424.30" y2="587.70" stroke="#111" stroke-width="1.4" stroke-linecap="butt"/>
<line x1="421.90" y1="552.20" x2="426.70" y2="552.20" stroke="#111" stroke-width="1.4" stroke-linecap="butt"/>
<line x1="421.90" y1="587.70" x2="426.70" y2="587.70" stroke="#111" stroke-width="1.4" stroke-linecap="butt"/>
<rect x="418.05" y="566.50" width="12.50" height="13.20" fill="#2c4a7d"/>
<line x1="418.05" y1="571.60" x2="430.55" y2="571.60" stroke="#101d33" stroke-width="1.6" stroke-linecap="butt"/>
<line x1="447.00" y1="550.30" x2="447.00" y2="577.40" stroke="#111" stroke-width="1.4" stroke-linecap="butt"/>
<line x1="444.60" y1="550.30" x2="449.40" y2="550.30" stroke="#111" stroke-width="1.4" stroke-linecap="butt"/>
<line x1="444.60" y1="577.40" x2="449.40" y2="577.40" stroke="#111" stroke-width="1.4" stroke-linecap="butt"/>
<rect x="440.75" y="564.20" width="12.50" height="13.20" fill="#a6002b"/>
<line x1="440.75" y1="574.40" x2="453.25" y2="574.40" stroke="#5c0016" stroke-width="1.6" stroke-linecap="butt"/>
<line x1="462.30" y1="566.50" x2="462.30" y2="587.70" stroke="#111" stroke-width="1.4" stroke-linecap="butt"/>
<line x1="459.90" y1="566.50" x2="464.70" y2="566.50" stroke="#111" stroke-width="1.4" stroke-linecap="butt"/>
<line x1="459.90" y1="587.70" x2="464.70" y2="587.70" stroke="#111" stroke-width="1.4" stroke-linecap="butt"/>
<rect x="456.05" y="569.70" width="12.50" height="18.00" fill="#2c4a7d"/>
<line x1="456.05" y1="580.40" x2="468.55" y2="580.40" stroke="#101d33" stroke-width="1.6" stroke-linecap="butt"/>
<line x1="484.70" y1="556.10" x2="484.70" y2="587.70" stroke="#111" stroke-width="1.4" stroke-linecap="butt"/>
<line x1="482.30" y1="556.10" x2="487.10" y2="556.10" stroke="#111" stroke-width="1.4" stroke-linecap="butt"/>
<line x1="482.30" y1="587.70" x2="487.10" y2="587.70" stroke="#111" stroke-width="1.4" stroke-linecap="butt"/>
<rect x="478.45" y="561.20" width="12.50" height="21.90" fill="#a6002b"/>
<line x1="478.45" y1="576.70" x2="490.95" y2="576.70" stroke="#5c0016" stroke-width="1.6" stroke-linecap="butt"/>
<line x1="500.10" y1="566.30" x2="500.10" y2="587.70" stroke="#111" stroke-width="1.4" stroke-linecap="butt"/>
<line x1="497.70" y1="566.30" x2="502.50" y2="566.30" stroke="#111" stroke-width="1.4" stroke-linecap="butt"/>
<line x1="497.70" y1="587.70" x2="502.50" y2="587.70" stroke="#111" stroke-width="1.4" stroke-linecap="butt"/>
<rect x="493.85" y="569.70" width="12.50" height="11.10" fill="#2c4a7d"/>
<line x1="493.85" y1="571.60" x2="506.35" y2="571.60" stroke="#101d33" stroke-width="1.6" stroke-linecap="butt"/>
<line x1="290.00" y1="465.40" x2="319.20" y2="465.40" stroke="#111" stroke-width="1.6" stroke-linecap="butt"/>
<text x="288.60" y="460.00" font-size="9" text-anchor="start" fill="#1e1e1e" font-weight="normal" font-style="normal" stroke="#1e1e1e" stroke-width="0.25" >p = 0.008</text>
<line x1="324.80" y1="529.80" x2="353.10" y2="529.80" stroke="#111" stroke-width="1.6" stroke-linecap="butt"/>
<text x="338.95" y="524.40" font-size="9" text-anchor="middle" fill="#1e1e1e" font-weight="normal" font-style="normal" stroke="#1e1e1e" stroke-width="0.25" >ns</text>
<line x1="367.10" y1="529.80" x2="396.00" y2="529.80" stroke="#111" stroke-width="1.6" stroke-linecap="butt"/>
<text x="381.55" y="524.40" font-size="9" text-anchor="middle" fill="#1e1e1e" font-weight="normal" font-style="normal" stroke="#1e1e1e" stroke-width="0.25" >ns</text>
<line x1="401.90" y1="529.60" x2="430.80" y2="529.60" stroke="#111" stroke-width="1.6" stroke-linecap="butt"/>
<text x="416.35" y="524.20" font-size="9" text-anchor="middle" fill="#1e1e1e" font-weight="normal" font-style="normal" stroke="#1e1e1e" stroke-width="0.25" >p = 0.017</text>
<line x1="439.30" y1="546.20" x2="467.70" y2="546.20" stroke="#111" stroke-width="1.6" stroke-linecap="butt"/>
<text x="453.50" y="540.80" font-size="9" text-anchor="middle" fill="#1e1e1e" font-weight="normal" font-style="normal" stroke="#1e1e1e" stroke-width="0.25" >ns</text>
<line x1="475.80" y1="546.20" x2="505.40" y2="546.20" stroke="#111" stroke-width="1.6" stroke-linecap="butt"/>
<text x="490.60" y="540.80" font-size="9" text-anchor="middle" fill="#1e1e1e" font-weight="normal" font-style="normal" stroke="#1e1e1e" stroke-width="0.25" >ns</text>
<rect x="443.90" y="441.50" width="9.30" height="9.50" fill="#a6002b"/>
<rect x="443.90" y="454.60" width="9.30" height="9.00" fill="#2c4a7d"/>
<text x="456.50" y="449.40" font-size="9.5" text-anchor="start" fill="#1e1e1e" font-weight="normal" font-style="normal" stroke="#1e1e1e" stroke-width="0.25" >tMN</text>
<text x="456.50" y="462.50" font-size="9.5" text-anchor="start" fill="#1e1e1e" font-weight="normal" font-style="normal" stroke="#1e1e1e" stroke-width="0.25" textLength="54.6" lengthAdjust="spacingAndGlyphs"><tspan font-style="italic">de novo</tspan> MDS</text>
<g transform="translate(309.30,597.1) rotate(-45)">
<text x="0.00" y="0.00" font-size="9.5" text-anchor="end" fill="#1e1e1e" font-weight="normal" font-style="normal" stroke="#1e1e1e" stroke-width="0.25" >A:T</text>
<line x1="-25.60" y1="-3.3" x2="-17.10" y2="-3.3" stroke="#1e1e1e" stroke-width="1.0"/>
<path d="M-19.40,-5.0 L-16.80,-3.3 L-19.40,-1.6" stroke="#1e1e1e" stroke-width="1.0" fill="none"/>
<text x="-28.00" y="0.00" font-size="9.5" text-anchor="end" fill="#1e1e1e" font-weight="normal" font-style="normal" stroke="#1e1e1e" stroke-width="0.25" >G:C</text>
</g>
<g transform="translate(347.20,597.1) rotate(-45)">
<text x="0.00" y="0.00" font-size="9.5" text-anchor="end" fill="#1e1e1e" font-weight="normal" font-style="normal" stroke="#1e1e1e" stroke-width="0.25" >G:C</text>
<line x1="-27.70" y1="-3.3" x2="-19.20" y2="-3.3" stroke="#1e1e1e" stroke-width="1.0"/>
<path d="M-21.50,-5.0 L-18.90,-3.3 L-21.50,-1.6" stroke="#1e1e1e" stroke-width="1.0" fill="none"/>
<text x="-30.10" y="0.00" font-size="9.5" text-anchor="end" fill="#1e1e1e" font-weight="normal" font-style="normal" stroke="#1e1e1e" stroke-width="0.25" >A:T</text>
</g>
<g transform="translate(385.10,597.1) rotate(-45)">
<text x="0.00" y="0.00" font-size="9.5" text-anchor="end" fill="#1e1e1e" font-weight="normal" font-style="normal" stroke="#1e1e1e" stroke-width="0.25" >A:T</text>
<line x1="-25.60" y1="-3.3" x2="-17.10" y2="-3.3" stroke="#1e1e1e" stroke-width="1.0"/>
<path d="M-19.40,-5.0 L-16.80,-3.3 L-19.40,-1.6" stroke="#1e1e1e" stroke-width="1.0" fill="none"/>
<text x="-28.00" y="0.00" font-size="9.5" text-anchor="end" fill="#1e1e1e" font-weight="normal" font-style="normal" stroke="#1e1e1e" stroke-width="0.25" >C:G</text>
</g>
<g transform="translate(423.00,597.1) rotate(-45)">
<text x="0.00" y="0.00" font-size="9.5" text-anchor="end" fill="#1e1e1e" font-weight="normal" font-style="normal" stroke="#1e1e1e" stroke-width="0.25" >C:G</text>
<line x1="-27.70" y1="-3.3" x2="-19.20" y2="-3.3" stroke="#1e1e1e" stroke-width="1.0"/>
<path d="M-21.50,-5.0 L-18.90,-3.3 L-21.50,-1.6" stroke="#1e1e1e" stroke-width="1.0" fill="none"/>
<text x="-30.10" y="0.00" font-size="9.5" text-anchor="end" fill="#1e1e1e" font-weight="normal" font-style="normal" stroke="#1e1e1e" stroke-width="0.25" >G:C</text>
</g>
<g transform="translate(460.90,597.1) rotate(-45)">
<text x="0.00" y="0.00" font-size="9.5" text-anchor="end" fill="#1e1e1e" font-weight="normal" font-style="normal" stroke="#1e1e1e" stroke-width="0.25" >T:A</text>
<line x1="-25.60" y1="-3.3" x2="-17.10" y2="-3.3" stroke="#1e1e1e" stroke-width="1.0"/>
<path d="M-19.40,-5.0 L-16.80,-3.3 L-19.40,-1.6" stroke="#1e1e1e" stroke-width="1.0" fill="none"/>
<text x="-28.00" y="0.00" font-size="9.5" text-anchor="end" fill="#1e1e1e" font-weight="normal" font-style="normal" stroke="#1e1e1e" stroke-width="0.25" >A:T</text>
</g>
<g transform="translate(498.80,597.1) rotate(-45)">
<text x="0.00" y="0.00" font-size="9.5" text-anchor="end" fill="#1e1e1e" font-weight="normal" font-style="normal" stroke="#1e1e1e" stroke-width="0.25" >C:G</text>
<line x1="-27.70" y1="-3.3" x2="-19.20" y2="-3.3" stroke="#1e1e1e" stroke-width="1.0"/>
<path d="M-21.50,-5.0 L-18.90,-3.3 L-21.50,-1.6" stroke="#1e1e1e" stroke-width="1.0" fill="none"/>
<text x="-30.10" y="0.00" font-size="9.5" text-anchor="end" fill="#1e1e1e" font-weight="normal" font-style="normal" stroke="#1e1e1e" stroke-width="0.25" >A:T</text>
</g>
<rect x="0" y="0" width="520" height="1.5" fill="#000"/>
<rect x="0" y="0" width="1.7" height="638" fill="#000"/>
<rect x="518" y="0" width="2" height="638" fill="#000"/>
<rect x="0" y="636" width="520" height="2" fill="#000"/>
</svg>
</body></html>
